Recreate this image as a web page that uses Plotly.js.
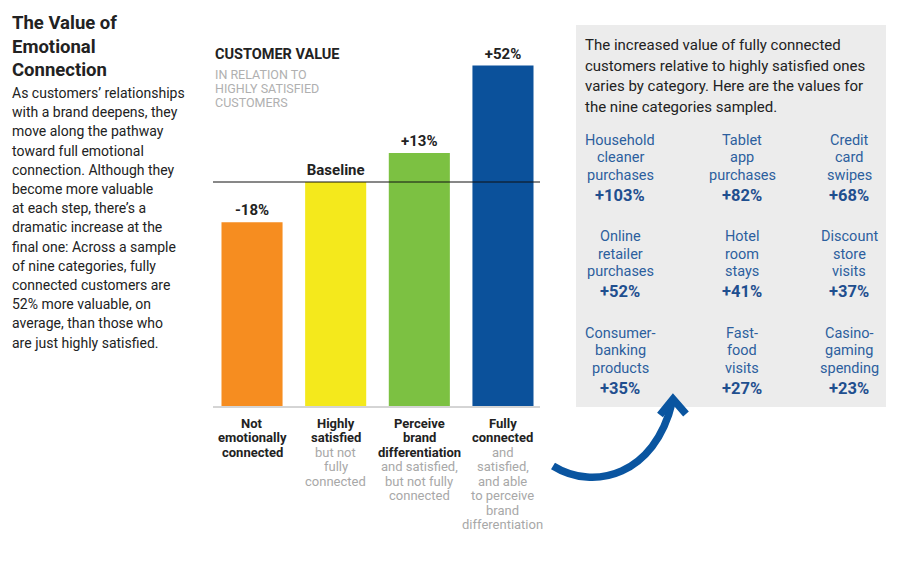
<!DOCTYPE html>
<html><head><meta charset="utf-8">
<script src="https://cdn.plot.ly/plotly-3.0.1.min.js"></script>
<style>html,body{margin:0;padding:0;background:#fff}#chart{width:903px;height:566px}</style>
</head><body><div id="chart"></div>
<script>
// ---- data ----
const categories = ['Not emotionally connected', 'Highly satisfied', 'Perceive brand differentiation', 'Fully connected'];
const changePct = [-18, 0, 13, 52];
const barLabels = ['-18%', 'Baseline', '+13%', '+52%'];
const barColors = ['#F68D20', '#F4E91C', '#7CC142', '#0B519B'];
const catBoldLines = [['Not', 'emotionally', 'connected'], ['Highly', 'satisfied'], ['Perceive', 'brand', 'differentiation'], ['Fully', 'connected']];
const catSubLines = [[], ['but not', 'fully', 'connected'], ['and satisfied,', 'but not fully', 'connected'], ['and', 'satisfied,', 'and able', 'to perceive', 'brand', 'differentiation']];
const sectorNames = [['Household', 'cleaner', 'purchases'], ['Tablet', 'app', 'purchases'], ['Credit', 'card', 'swipes'],
  ['Online', 'retailer', 'purchases'], ['Hotel', 'room', 'stays'], ['Discount', 'store', 'visits'],
  ['Consumer-', 'banking', 'products'], ['Fast-', 'food', 'visits'], ['Casino-', 'gaming', 'spending']];
const sectorValues = [103, 82, 68, 52, 41, 37, 35, 27, 23];
const titleLines = ['The Value of', 'Emotional', 'Connection'];
const bodyLines = ['As customers\u2019 relationships', 'with a brand deepens, they', 'move along the pathway', 'toward full emotional',
  'connection. Although they', 'become more valuable', 'at each step, there\u2019s a', 'dramatic increase at the',
  'final one: Across a sample', 'of nine categories, fully', 'connected customers are', '52% more valuable, on',
  'average, than those who', 'are just highly satisfied.'];
const boxLines = ['The increased value of fully connected', 'customers relative to highly satisfied ones', 'varies by category. Here are the values for', 'the nine categories sampled.'];
const chartTitle = 'CUSTOMER VALUE';
const chartSubLines = ['IN RELATION TO', 'HIGHLY SATISFIED', 'CUSTOMERS'];

// ---- layout helpers (pixel -> paper) ----
const W = 903, H = 566;
const px = x => x / W, py = y => 1 - y / H;
const FONT = 'Roboto, Arial, sans-serif';
const ann = [];
function txt(x, y, text, size, color, opts) {
  ann.push(Object.assign({xref: 'paper', yref: 'paper', x: px(x), y: py(y), text: text, showarrow: false,
    xanchor: 'center', yanchor: 'middle', font: {family: FONT, size: size, color: color}}, opts || {}));
}

// left text
titleLines.forEach((l, i) => txt(10, 23 + i * 23.5, '<b>' + l + '</b>', 18.5, '#222', {xanchor: 'left'}));
bodyLines.forEach((l, i) => txt(10, 93 + i * 19.2, l, 14, '#222', {xanchor: 'left'}));

// chart title
txt(213, 54, '<b>' + chartTitle + '</b>', 14.5, '#222', {xanchor: 'left'});
chartSubLines.forEach((l, i) => txt(213, 74 + i * 14.5, l, 12.5, '#b0b0b0', {xanchor: 'left'}));

// category labels under bars (xref x)
categories.forEach((c, ci) => {
  const lines = catBoldLines[ci].map(l => ({t: '<b>' + l + '</b>', c: '#222'}))
    .concat(catSubLines[ci].map(l => ({t: l, c: '#a8a8a8'})));
  lines.forEach((l, li) => {
    ann.push({xref: 'x', yref: 'paper', x: c, y: py(423 + li * 14.5), text: l.t, showarrow: false,
      xanchor: 'center', yanchor: 'middle', font: {family: FONT, size: 13, color: l.c}});
  });
});

// box text
boxLines.forEach((l, i) => txt(583, 45 + i * 20.5, l, 15, '#222', {xanchor: 'left'}));
const colX = [620, 742, 849];
sectorNames.forEach((nm, i) => {
  const cx = colX[i % 3], y0 = 140 + Math.floor(i / 3) * 96.5;
  nm.forEach((l, li) => txt(cx, y0 + li * 17.5, l, 14.5, '#2C5F9E'));
  txt(cx, y0 + 55, '<b>+' + sectorValues[i] + '%</b>', 16.5, '#1F4F8F');
});

// shapes
const shapes = [
  {type: 'rect', xref: 'paper', yref: 'paper', x0: px(576), x1: px(886), y0: py(25), y1: py(407), fillcolor: '#ECECEC', line: {width: 0}, layer: 'below'},
  {type: 'line', xref: 'paper', yref: 'y', x0: px(213), x1: px(540), y0: 100, y1: 100, line: {color: '#111', width: 1}, layer: 'above'},
  {type: 'line', xref: 'paper', yref: 'paper', x0: px(213), x1: px(540), y0: py(407), y1: py(407), line: {color: '#aaa', width: 1}}
];
const P = (x, y) => px(x).toFixed(5) + ',' + py(y).toFixed(5);
shapes.push({type: 'path', xref: 'paper', yref: 'paper',
  path: 'M' + P(553, 466) + ' C' + P(595, 492) + ' ' + P(655, 474) + ' ' + P(672, 403),
  line: {color: '#0A55A0', width: 7.5}});
shapes.push({type: 'path', xref: 'paper', yref: 'paper',
  path: 'M' + P(660, 415) + ' L' + P(673, 399) + ' L' + P(686, 414),
  line: {color: '#0A55A0', width: 7.5}});

const trace = {
  type: 'bar', x: categories, y: changePct.map(v => 100 + v),
  marker: {color: barColors, line: {width: 0}},
  text: barLabels, textposition: 'outside', constraintext: 'none', cliponaxis: false,
  texttemplate: '<b>%{text}</b>',
  textfont: {family: FONT, size: 15, color: '#222'}, hoverinfo: 'skip'
};

const layout = {
  width: W, height: H, margin: {l: 0, r: 0, t: 0, b: 0}, paper_bgcolor: '#fff', plot_bgcolor: 'rgba(0,0,0,0)',
  showlegend: false, bargap: 0.27,
  xaxis: {domain: [px(210.2), px(544.8)], range: [-0.5, 3.5], type: 'category', showticklabels: false, showgrid: false, zeroline: false, showline: false, ticks: ''},
  yaxis: {domain: [py(406), py(40)], range: [0, 163.4], showticklabels: false, showgrid: false, zeroline: false, showline: false, ticks: ''},
  annotations: ann, shapes: shapes
};
Plotly.newPlot('chart', [trace], layout, {displayModeBar: false, staticPlot: true});
</script></body></html>
